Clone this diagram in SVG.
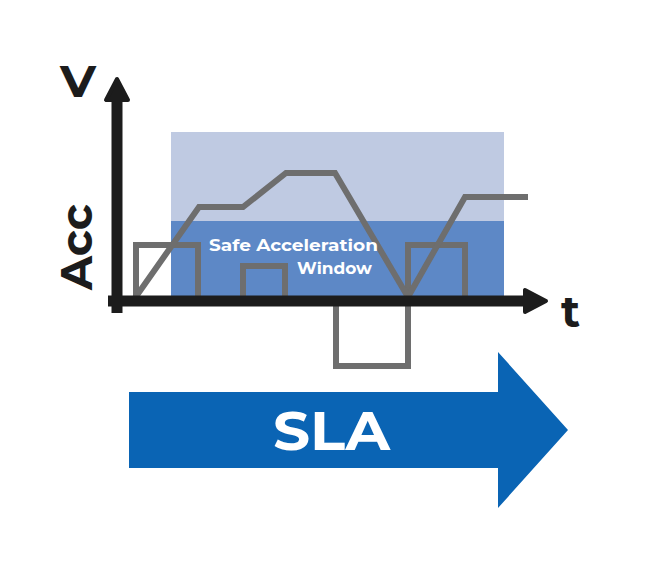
<svg xmlns="http://www.w3.org/2000/svg" width="647" height="572" viewBox="0 0 647 572">
<style>
.lbl{font-family:"Montserrat","Lato","Liberation Sans",sans-serif;font-weight:bold;}
.ax{fill:#1c1c1c;font-size:44px;}
.g{fill:none;stroke:#6e6e6e;stroke-width:6;stroke-linejoin:miter;}
.axis{stroke:#1c1c1c;stroke-width:11;fill:none;}
.head{fill:#1c1c1c;stroke:#1c1c1c;stroke-width:4;stroke-linejoin:round;}
</style>
<rect width="647" height="572" fill="#ffffff"/>
<g id="window">
<rect x="171" y="132" width="333" height="89" fill="#bfcae2"/>
<rect x="171" y="221" width="333" height="76" fill="#5d88c6"/>
</g>
<g id="acceleration">
<path class="g" d="M136,300 V245 H198 V300 M243,300 V266 H285 V300 M336,300 V366 H408 V300 M408,300 V245 H465 V300"/>
</g>
<g id="velocity">
<path class="g" d="M135,298 L199,207 H243 L286,173 H335 L408,297 L465,197 H528"/>
</g>
<g id="window-label">
<text class="lbl" x="209" y="251" font-size="17" font-weight="600" fill="#ffffff" textLength="169" lengthAdjust="spacingAndGlyphs">Safe Acceleration</text>
<text class="lbl" x="297" y="274" font-size="17" fill="#ffffff" textLength="75" lengthAdjust="spacingAndGlyphs">Window</text>
</g>
<g id="axes">
<line class="axis" x1="117" y1="313" x2="117" y2="100"/>
<polygon class="head" points="117,79 106,100 128,100"/>
<line class="axis" x1="108" y1="301" x2="526" y2="301"/>
<polygon class="head" points="546,301 525,290 525,312"/>
<text class="lbl ax" x="60" y="97" textLength="36" lengthAdjust="spacingAndGlyphs">V</text>
<text class="lbl ax" x="561" y="327">t</text>
<text class="lbl ax" transform="translate(92,290) rotate(-90)" x="0" y="0" textLength="86" lengthAdjust="spacingAndGlyphs">Acc</text>
</g>
<g id="sla">
<polygon points="129,392 498,392 498,352 568,430 498,508 498,468 129,468" fill="#0a64b4"/>
<text class="lbl" x="273" y="450" font-size="54" fill="#ffffff" textLength="117" lengthAdjust="spacingAndGlyphs">SLA</text>
</g>
</svg>
